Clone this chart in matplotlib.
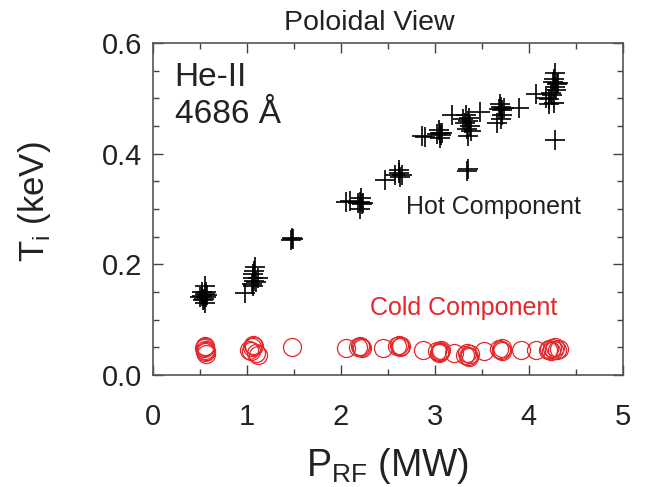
import matplotlib.pyplot as plt
from matplotlib.ticker import MultipleLocator

plt.rcParams['font.family'] = ['Liberation Sans', 'DejaVu Sans']
plt.rcParams['mathtext.fontset'] = 'custom'
plt.rcParams['mathtext.rm'] = 'Liberation Sans'

# hot component (P_RF in MW, Ti in keV)
hot_x = [0.50, 0.52, 0.54, 0.56, 0.55, 0.53, 0.55, 0.57, 0.55, 0.58, 0.52,
         0.98, 1.05, 1.08, 1.10, 1.06, 1.07, 1.08, 1.12, 1.06, 1.09,
         1.47, 1.48, 1.49,
         2.05, 2.10, 2.18, 2.20, 2.22, 2.24, 2.20, 2.21,
         2.47, 2.58, 2.62, 2.65, 2.63, 2.62,
         2.86, 2.90, 3.02, 3.05, 3.07, 3.04, 3.08, 3.05,
         3.18, 3.30, 3.32, 3.35, 3.37, 3.34, 3.36, 3.38, 3.35, 3.33, 3.34, 3.35,
         3.48, 3.68, 3.70, 3.72, 3.71, 3.69, 3.74, 3.66, 3.70,
         3.90, 4.08, 4.18, 4.22, 4.25, 4.27, 4.24, 4.28, 4.30, 4.27, 4.29,
         4.26, 4.31, 4.28, 4.22, 4.28]
hot_y = [0.140, 0.143, 0.138, 0.141, 0.146, 0.135, 0.130, 0.150, 0.160, 0.145, 0.150,
         0.148, 0.165, 0.170, 0.168, 0.175, 0.182, 0.188, 0.176, 0.160, 0.195,
         0.243, 0.248, 0.245,
         0.313, 0.315, 0.310, 0.312, 0.308, 0.311, 0.300, 0.320,
         0.352, 0.362, 0.365, 0.362, 0.358, 0.370,
         0.432, 0.430, 0.435, 0.437, 0.433, 0.442, 0.438, 0.428,
         0.470, 0.462, 0.455, 0.458, 0.450, 0.445, 0.465, 0.440, 0.432, 0.470, 0.368, 0.372,
         0.475, 0.480, 0.485, 0.478, 0.470, 0.490, 0.482, 0.455, 0.462,
         0.482, 0.507, 0.500, 0.498, 0.505, 0.492, 0.510, 0.520, 0.525, 0.535, 0.515,
         0.530, 0.528, 0.545, 0.490, 0.425]

# cold component
cold_x = [0.55, 0.55, 0.55, 0.56, 0.55, 0.54, 0.56,
          1.02, 1.05, 1.08, 1.10, 1.12, 1.06, 1.04,
          1.48, 2.05, 2.18, 2.20, 2.22, 2.21,
          2.45, 2.60, 2.62, 2.64, 2.63,
          2.87, 3.02, 3.05, 3.07, 3.04, 3.06,
          3.20, 3.32, 3.35, 3.37, 3.34, 3.36,
          3.52, 3.68, 3.70, 3.72, 3.71,
          3.92, 4.08, 4.20, 4.22, 4.25, 4.27, 4.30, 4.28, 4.24, 4.32]
cold_y = [0.050, 0.046, 0.042, 0.038, 0.053, 0.048, 0.044,
          0.045, 0.050, 0.052, 0.040, 0.036, 0.055, 0.043,
          0.050, 0.048, 0.050, 0.052, 0.049, 0.051,
          0.048, 0.052, 0.055, 0.053, 0.050,
          0.046, 0.044, 0.043, 0.046, 0.040, 0.042,
          0.040, 0.037, 0.035, 0.038, 0.040, 0.033,
          0.044, 0.047, 0.045, 0.048, 0.043,
          0.045, 0.046, 0.045, 0.047, 0.048, 0.046, 0.045, 0.050, 0.043, 0.047]

red = '#e5262a'
ink = '#222222'

fig = plt.figure(figsize=(6.48, 4.87), dpi=100)
ax = fig.add_axes([0.236, 0.230, 0.725, 0.682])

ax.plot(hot_x, hot_y, '+', color='black', markersize=14, markeredgewidth=1.2)
ax.plot(cold_x, cold_y, 'o', markerfacecolor='none', markeredgecolor=red,
        markersize=13, markeredgewidth=0.9)

ax.set_xlim(0, 5)
ax.set_ylim(0, 0.6)
ax.xaxis.set_major_locator(MultipleLocator(1))
ax.xaxis.set_minor_locator(MultipleLocator(0.5))
ax.yaxis.set_major_locator(MultipleLocator(0.2))
ax.yaxis.set_minor_locator(MultipleLocator(0.05))
ax.yaxis.set_major_formatter(plt.FormatStrFormatter('%.1f'))
ax.tick_params(which='both', direction='in', top=True, right=True,
               labelsize=21, color='#444444', labelcolor=ink)
ax.tick_params(which='major', length=7, width=1)
ax.tick_params(which='minor', length=4, width=1)
ax.tick_params(axis='x', pad=20)
ax.tick_params(axis='y', pad=8)
for s in ax.spines.values():
    s.set_color('#555555')
    s.set_linewidth(1.2)

ax.text(0.46, 1.039, 'Poloidal View', transform=ax.transAxes, fontsize=20.5,
        ha='center', va='baseline', color=ink)
ax.set_xlabel(r'P$_{\mathrm{RF}}$ (MW)', fontsize=27, color=ink)
ax.set_ylabel(r'T$_{\mathrm{i}}$ (keV)', fontsize=25, color=ink)
ax.xaxis.set_label_coords(0.5, -0.215)
ax.yaxis.set_label_coords(-0.213, 0.521)

ax.text(0.23, 0.537, 'He-II', fontsize=24, va='center', color=ink)
ax.text(0.23, 0.470, '4686 Å', fontsize=24, va='center', color=ink)
ax.text(2.69, 0.304, 'Hot Component', fontsize=18, va='center', color=ink)
ax.text(2.31, 0.121, 'Cold Component', fontsize=18, va='center', color=red)

fig.savefig('out.png', dpi=100)
